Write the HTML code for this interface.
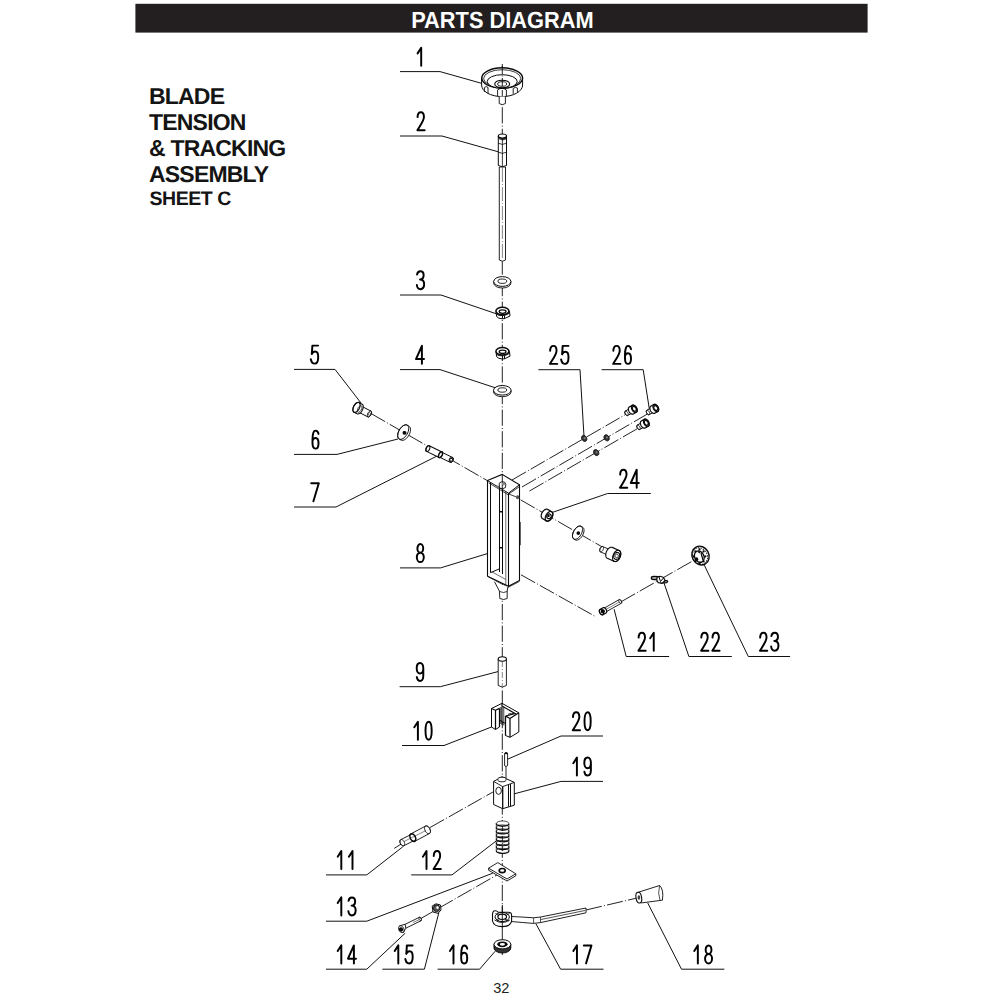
<!DOCTYPE html>
<html><head><meta charset="utf-8"><style>
html,body{margin:0;padding:0;background:#fff;width:1000px;height:1000px;overflow:hidden}
svg{position:absolute;left:0;top:0}
.h{font-family:"Liberation Sans",sans-serif;font-weight:bold;text-rendering:geometricPrecision}
</style></head><body>
<svg width="1000" height="1000" viewBox="0 0 1000 1000">
<rect x="135.4" y="3.8" width="732.2" height="28.8" fill="#231f20"/>
<text class="h" transform="translate(411.2 27.5) scale(1 1.07)" font-size="21.8" fill="#fff">PARTS DIAGRAM</text>
<g class="h" fill="#141414" font-size="23" letter-spacing="-0.8">
<text transform="translate(149 104) scale(1 1)">BLADE</text>
<text transform="translate(149 130) scale(1 1)">TENSION</text>
<text transform="translate(149 156) scale(1 1)">&amp; TRACKING</text>
<text transform="translate(149 182) scale(1 1)">ASSEMBLY</text>
<text x="149.5" y="205.3" font-size="19.5" letter-spacing="-0.45">SHEET C</text>
</g>
<text x="493.2" y="993.4" font-family="Liberation Sans" font-size="14.6" fill="#231f20">32</text>
<g fill="none" stroke="#111" stroke-width="1">
<polyline points="400,71.6 440,71.6 484,84"/>
<polyline points="400,136 442,136 499,152"/>
<polyline points="400,295 441,295 497,314"/>
<polyline points="400,369.6 440,369.6 496,388"/>
<polyline points="294,369.4 335,369.4 361,403"/>
<polyline points="294,454.4 337,454.4 398,439"/>
<polyline points="294,507 336,507 437,456"/>
<polyline points="400,567.9 440.6,567.9 487.4,553.6"/>
<polyline points="399.6,686.7 440.4,686.7 498,671.6"/>
<polyline points="402,745.5 444,745.5 492,726.8"/>
<polyline points="326,874.9 366.8,874.9 402.8,846.8"/>
<polyline points="411.2,874.9 452,874.9 496.4,840.8"/>
<polyline points="326,921.2 366.8,921.2 492.8,873.2"/>
<polyline points="326,969.2 366.8,969.2 405.2,933.2"/>
<polyline points="382.4,969.2 424.4,969.2 438.8,912.8"/>
<polyline points="437.6,969.2 479.6,969.2 495.2,951.2"/>
<polyline points="603.5,969.2 560.6,969.2 535.9,923.7"/>
<polyline points="724.4,969.2 681.5,969.2 647.7,902.9"/>
<polyline points="603,781.4 561,781.4 513.6,794"/>
<polyline points="603,736 561,736 507.6,759.2"/>
<polyline points="669.1,656.5 626.2,656.5 614.1,609.2"/>
<polyline points="731.8,656.5 688.9,656.5 663.6,581.7"/>
<polyline points="790.1,656.5 748.3,656.5 704.3,565.2"/>
<polyline points="650.8,493.5 607.6,493.5 552.4,512.4"/>
<polyline points="538.4,369.7 580,369.7 584,436.4"/>
<polyline points="601.6,369.7 643.2,369.7 649.6,410.8"/>
</g>
<g fill="none">
<line x1="502.3" y1="64" x2="502.3" y2="955" stroke="#0a0a0a" stroke-width="0.9" stroke-dasharray="16.2 2.2 1 2.2"/>
<line x1="371" y1="413.51" x2="603" y2="547.38" stroke="#0a0a0a" stroke-width="0.9" stroke-dasharray="16.2 2.2 1 2.2"/>
<line x1="512" y1="480" x2="626.4" y2="414" stroke="#0a0a0a" stroke-width="0.9" stroke-dasharray="16.2 2.2 1 2.2"/>
<line x1="522" y1="487" x2="648.8" y2="413.2" stroke="#0a0a0a" stroke-width="0.9" stroke-dasharray="16.2 2.2 1 2.2"/>
<line x1="529.5" y1="491" x2="639.2" y2="427.6" stroke="#0a0a0a" stroke-width="0.9" stroke-dasharray="16.2 2.2 1 2.2"/>
<line x1="521" y1="574.8" x2="594.5" y2="616" stroke="#0a0a0a" stroke-width="0.9" stroke-dasharray="16.2 2.2 1 2.2"/>
<line x1="621" y1="601.8" x2="694" y2="560.2" stroke="#0a0a0a" stroke-width="0.9" stroke-dasharray="16.2 2.2 1 2.2"/>
<line x1="394.2" y1="848.4" x2="402" y2="843.5" stroke="#0a0a0a" stroke-width="0.9" />
<line x1="430" y1="827.5" x2="493" y2="792" stroke="#0a0a0a" stroke-width="0.9" stroke-dasharray="16.2 2.2 1 2.2"/>
<line x1="420" y1="919" x2="498.2" y2="874.2" stroke="#0a0a0a" stroke-width="0.9" stroke-dasharray="16.2 2.2 1 2.2"/>
<line x1="586" y1="910" x2="637" y2="898" stroke="#0a0a0a" stroke-width="0.9" stroke-dasharray="16.2 2.2 1 2.2"/>
</g>
<path d="M481.6,78 L481.6,85 A20.5,11.6 0 0 0 522.6,85 L522.6,78 Z" fill="#fff" stroke="#0a0a0a" stroke-width="1"/>
<ellipse cx="502.2" cy="78" rx="20.4" ry="10.2" fill="#fff" stroke="#0a0a0a" stroke-width="1.4"/>
<ellipse cx="502.2" cy="78.5" rx="18.6" ry="8.8" fill="none" stroke="#0a0a0a" stroke-width="0.8"/>
<ellipse cx="502.2" cy="81.5" rx="15" ry="6.8" fill="#fff" stroke="#0a0a0a" stroke-width="1"/>
<ellipse cx="502.2" cy="84" rx="7.5" ry="3.8" fill="#fff" stroke="#0a0a0a" stroke-width="1.1"/>
<ellipse cx="502.2" cy="84" rx="4.5" ry="2.3" fill="#fff" stroke="#0a0a0a" stroke-width="0.9"/>
<path d="M484.4,92 L484.4,87.5 Q486.2,85.5 488,87.5 L488,93.5 M497.6,96 L497.6,90 Q502,86.5 506.4,90 L506.4,96.5 M513.2,94 L513.2,88.5 Q515.3,86.5 517.4,88 L517.4,92" fill="none" stroke="#0a0a0a" stroke-width="0.9"/>
<line x1="502.3" y1="66" x2="502.3" y2="97" stroke="#0a0a0a" stroke-width="0.9" stroke-dasharray="8 1.5 1 1.5"/>
<path d="M499.2,96.5 L499.2,103.5 Q502.3,106 505.4,103.5 L505.4,96.5" fill="#fff" stroke="#0a0a0a" stroke-width="0.9"/>
<path d="M499.3,167 L499.3,260 Q502.4,262.5 505.5,260 L505.5,167 Z" fill="#fff" stroke="#0a0a0a" stroke-width="0.9"/>
<line x1="502.4" y1="168" x2="502.4" y2="259" stroke="#0a0a0a" stroke-width="0.5" stroke-dasharray="14 2 1 2"/>
<path d="M498.3,136 L498.3,165.5 Q502.4,168 506.5,165.5 L506.5,136 Z" fill="#fff" stroke="#0a0a0a" stroke-width="1"/>
<ellipse cx="502.4" cy="136" rx="4.1" ry="2" fill="#fff" stroke="#0a0a0a" stroke-width="1.2"/>
<path d="M498.5,136.5 L502.4,138.5 L506.3,136.5 L506,139.5 L502.4,140.5 L498.8,139 Z" fill="#0a0a0a" opacity="0.8"/>
<path d="M498.3,143.3 L502.4,144.4 L506.5,143.3 M498.3,152.2 L502.4,153.4 L506.5,152.2 M502.4,138 L502.4,167" fill="none" stroke="#0a0a0a" stroke-width="0.8"/>
<path d="M493.7,281.5 L493.7,283.1 A8.6,4.9 0 0 0 510.9,283.1 L510.9,281.5 Z" fill="#fff" stroke="#0a0a0a" stroke-width="0.9"/><ellipse cx="502.3" cy="281.5" rx="8.6" ry="4.9" fill="#fff" stroke="#0a0a0a" stroke-width="1"/><ellipse cx="502.3" cy="281.2" rx="4.4" ry="2.2" fill="#fff" stroke="#0a0a0a" stroke-width="0.9"/>
<path d="M493.5,390.3 L493.5,391.9 A8.8,4.8 0 0 0 511.1,391.9 L511.1,390.3 Z" fill="#fff" stroke="#0a0a0a" stroke-width="0.9"/><ellipse cx="502.3" cy="390.3" rx="8.8" ry="4.8" fill="#fff" stroke="#0a0a0a" stroke-width="1"/><ellipse cx="502.3" cy="390" rx="4.4" ry="2.2" fill="#fff" stroke="#0a0a0a" stroke-width="0.9"/>
<path d="M496,311.2 L496.6,316.5 Q498,318.6 502.5,318.8 L504.5,318.6 L510,316 L509.5,311.2 Z" fill="#fff" stroke="#0a0a0a" stroke-width="1"/><ellipse cx="502.4" cy="311" rx="6.5" ry="3.7" fill="#fff" stroke="#0a0a0a" stroke-width="1.5"/><ellipse cx="502.6" cy="311.6" rx="3.4" ry="1.7" fill="#fff" stroke="#0a0a0a" stroke-width="1.3"/><path d="M496.2,314 Q499,316 502.5,315.6 L504.5,315.3 Q508,314.5 509.8,312.8 M502.5,315.6 L502.5,318.8 M504.5,315.3 L504.5,318.6" fill="none" stroke="#0a0a0a" stroke-width="1"/>
<path d="M496,351.4 L496.6,356.7 Q498,358.8 502.5,359 L504.5,358.8 L510,356.2 L509.5,351.4 Z" fill="#fff" stroke="#0a0a0a" stroke-width="1"/><ellipse cx="502.4" cy="351.2" rx="6.5" ry="3.7" fill="#fff" stroke="#0a0a0a" stroke-width="1.5"/><ellipse cx="502.6" cy="351.8" rx="3.4" ry="1.7" fill="#fff" stroke="#0a0a0a" stroke-width="1.3"/><path d="M496.2,354.2 Q499,356.2 502.5,355.8 L504.5,355.5 Q508,354.7 509.8,353 M502.5,355.8 L502.5,359 M504.5,355.5 L504.5,358.8" fill="none" stroke="#0a0a0a" stroke-width="1"/>
<polygon points="367.92,416.92 368.13,417 368.35,417.02 368.6,416.99 368.86,416.9 369.13,416.77 369.4,416.59 369.67,416.37 369.94,416.1 370.2,415.8 370.45,415.47 370.68,415.11 370.89,414.73 371.07,414.34 371.23,413.95 371.35,413.55 371.44,413.16 371.5,412.79 371.52,412.43 371.5,412.11 371.45,411.81 371.37,411.55 371.25,411.34 371.1,411.17 370.92,411.04 360.67,405.82 360.47,405.75 360.24,405.73 359.99,405.76 359.74,405.84 359.47,405.97 359.19,406.15 358.92,406.38 358.65,406.64 358.39,406.94 358.14,407.28 357.91,407.64 357.7,408.01 357.52,408.4 357.37,408.8 357.24,409.2 357.15,409.58 357.09,409.96 357.07,410.31 357.09,410.64 357.14,410.93 357.23,411.19 357.35,411.41 357.5,411.58 357.67,411.7" fill="#fff" stroke="#0a0a0a" stroke-width="1" /><polygon points="367.92,416.92 368.24,417.01 368.6,416.99 368.99,416.84 369.4,416.59 369.81,416.24 370.2,415.8 370.57,415.29 370.89,414.73 371.15,414.14 371.35,413.55 371.47,412.97 371.52,412.43 371.48,411.95 371.37,411.55 371.18,411.25 370.92,411.04 370.6,410.95 370.24,410.98 369.85,411.12 369.44,411.37 369.03,411.73 368.63,412.17 368.27,412.67 367.95,413.23 367.69,413.82 367.49,414.42 367.36,414.99 367.32,415.53 367.36,416.01 367.47,416.41 367.66,416.72 367.92,416.92" fill="none" stroke="#0a0a0a" stroke-width="1"/>
<polygon points="357.17,413.8 357.53,413.94 357.94,413.99 358.37,413.95 358.82,413.83 359.28,413.63 359.76,413.34 360.23,412.99 360.68,412.56 361.13,412.08 361.54,411.54 361.92,410.95 362.26,410.34 362.56,409.7 362.81,409.05 363,408.39 363.14,407.75 363.21,407.13 363.22,406.54 363.17,405.99 363.06,405.5 362.9,405.06 362.67,404.69 362.39,404.39 362.07,404.18 358.95,402.59 358.59,402.45 358.18,402.4 357.75,402.44 357.3,402.56 356.83,402.76 356.36,403.04 355.89,403.4 355.43,403.83 354.99,404.31 354.58,404.85 354.2,405.44 353.85,406.05 353.56,406.69 353.31,407.34 353.12,408 352.98,408.64 352.91,409.26 352.9,409.85 352.94,410.4 353.05,410.89 353.22,411.33 353.45,411.7 353.72,411.99 354.05,412.21" fill="#fff" stroke="#0a0a0a" stroke-width="1.1" /><polygon points="354.05,412.21 354.61,412.38 355.25,412.36 355.93,412.15 356.64,411.76 357.34,411.19 358.01,410.49 358.62,409.66 359.15,408.75 359.57,407.78 359.88,406.8 360.06,405.85 360.1,404.95 360.01,404.15 359.78,403.47 359.42,402.94 358.95,402.59 358.39,402.42 357.75,402.44 357.07,402.65 356.36,403.04 355.66,403.61 354.99,404.31 354.38,405.14 353.85,406.05 353.43,407.02 353.12,408 352.94,408.95 352.9,409.85 352.99,410.65 353.22,411.33 353.58,411.86 354.05,412.21" fill="none" stroke="#0a0a0a" stroke-width="1.1"/>
<polygon points="357.98,412.2 358.33,412.29 358.72,412.27 359.15,412.11 359.6,411.83 360.04,411.45 360.47,410.97 360.87,410.42 361.22,409.81 361.51,409.16 361.73,408.52 361.86,407.89 361.91,407.3 361.87,406.78 361.74,406.34 361.53,406 361.25,405.78 360.91,405.68 360.51,405.71 360.09,405.87 359.64,406.14 359.19,406.53 358.76,407.01 358.36,407.56 358.01,408.17 357.73,408.81 357.51,409.46 357.38,410.09 357.33,410.68 357.37,411.2 357.49,411.64 357.7,411.98 357.98,412.2" fill="none" stroke="#0a0a0a" stroke-width="0.8"/>
<polygon points="368.83,415.14 369.07,415.23 369.32,415.28 369.57,415.27 369.82,415.22 370.05,415.12 370.26,414.97 370.44,414.79 370.58,414.57 370.67,414.34 370.72,414.08 370.71,413.83 370.66,413.58 370.55,413.35 370.41,413.14 370.22,412.96 370.01,412.82 369.77,412.73 369.52,412.69 369.27,412.69 369.02,412.75 368.78,412.85 368.58,412.99 368.4,413.18 368.26,413.39 368.17,413.63 368.12,413.88 368.13,414.14 368.18,414.38 368.29,414.62 368.43,414.83 368.61,415 368.83,415.14" fill="#fff" stroke="#0a0a0a" stroke-width="0.8"/>
<polygon points="401,440.06 401.53,440.29 402.12,440.39 402.76,440.37 403.44,440.23 404.15,439.97 404.87,439.58 405.59,439.09 406.3,438.5 406.99,437.81 407.65,437.05 408.26,436.22 408.81,435.33 409.3,434.41 409.72,433.46 410.05,432.51 410.3,431.57 410.46,430.66 410.52,429.79 410.49,428.97 410.37,428.23 410.15,427.57 409.85,427.01 409.46,426.55 409,426.2 407.2,425.16 406.67,424.94 406.08,424.83 405.44,424.85 404.76,424.99 404.05,425.26 403.33,425.64 402.61,426.13 401.9,426.72 401.21,427.41 400.55,428.17 399.94,429.01 399.39,429.89 398.9,430.81 398.48,431.76 398.15,432.71 397.9,433.65 397.74,434.56 397.68,435.43 397.71,436.25 397.83,436.99 398.05,437.65 398.35,438.21 398.74,438.67 399.2,439.02" fill="#fff" stroke="#0a0a0a" stroke-width="1" /><polygon points="399.2,439.02 400.02,439.32 400.96,439.33 401.99,439.07 403.07,438.55 404.15,437.77 405.19,436.78 406.16,435.6 407.01,434.29 407.72,432.9 408.25,431.47 408.59,430.07 408.72,428.75 408.64,427.55 408.35,426.53 407.87,425.73 407.2,425.16 406.38,424.87 405.44,424.85 404.41,425.11 403.33,425.64 402.25,426.41 401.21,427.41 400.24,428.58 399.39,429.89 398.68,431.29 398.15,432.71 397.81,434.11 397.68,435.43 397.76,436.63 398.05,437.65 398.53,438.46 399.2,439.02" fill="none" stroke="#0a0a0a" stroke-width="1"/>
<polygon points="403.9,433.88 404.11,433.98 404.34,434.03 404.58,434.04 404.81,434 405.03,433.92 405.23,433.79 405.4,433.63 405.54,433.44 405.64,433.23 405.69,433 405.7,432.76 405.66,432.53 405.58,432.31 405.45,432.11 405.29,431.94 405.1,431.8 404.89,431.71 404.66,431.65 404.42,431.64 404.19,431.68 403.97,431.77 403.77,431.89 403.6,432.05 403.46,432.24 403.36,432.46 403.31,432.68 403.3,432.92 403.34,433.15 403.42,433.37 403.55,433.57 403.71,433.74 403.9,433.88" fill="#0a0a0a" stroke="#0a0a0a" stroke-width="1.5"/>
<polygon points="450.43,462.44 450.61,462.5 450.81,462.52 451.03,462.5 451.25,462.43 451.48,462.33 451.72,462.18 451.95,462 452.17,461.78 452.39,461.53 452.59,461.26 452.77,460.96 452.94,460.65 453.08,460.33 453.19,460 453.28,459.67 453.34,459.35 453.37,459.04 453.37,458.74 453.34,458.47 453.28,458.22 453.19,458 453.08,457.82 452.93,457.68 452.77,457.57 441.24,452.02 441.05,451.96 440.85,451.94 440.63,451.96 440.41,452.03 440.18,452.13 439.95,452.28 439.72,452.46 439.49,452.68 439.28,452.93 439.08,453.2 438.89,453.5 438.73,453.81 438.59,454.13 438.47,454.46 438.38,454.79 438.32,455.11 438.29,455.42 438.29,455.72 438.32,455.99 438.38,456.24 438.47,456.46 438.59,456.64 438.73,456.78 438.89,456.89" fill="#fff" stroke="#0a0a0a" stroke-width="1" /><polygon points="450.43,462.44 450.71,462.52 451.03,462.5 451.37,462.39 451.72,462.18 452.06,461.89 452.39,461.53 452.68,461.11 452.94,460.65 453.14,460.16 453.28,459.67 453.36,459.19 453.37,458.74 453.32,458.34 453.19,458 453.01,457.74 452.77,457.57 452.49,457.49 452.17,457.51 451.83,457.62 451.48,457.83 451.14,458.12 450.81,458.48 450.51,458.9 450.26,459.36 450.06,459.85 449.91,460.34 449.84,460.82 449.82,461.27 449.88,461.67 450,462.01 450.19,462.27 450.43,462.44" fill="none" stroke="#0a0a0a" stroke-width="1"/>
<polygon points="439.17,457.46 439.38,457.54 439.61,457.56 439.86,457.53 440.12,457.46 440.38,457.34 440.65,457.17 440.92,456.96 441.17,456.71 441.42,456.42 441.65,456.11 441.86,455.77 442.05,455.41 442.21,455.04 442.35,454.66 442.45,454.29 442.52,453.91 442.55,453.56 442.55,453.22 442.52,452.91 442.45,452.62 442.35,452.37 442.21,452.16 442.05,452 441.86,451.88 429.24,445.81 429.03,445.73 428.8,445.71 428.55,445.74 428.3,445.81 428.03,445.93 427.76,446.1 427.5,446.31 427.24,446.56 427,446.85 426.76,447.16 426.55,447.5 426.36,447.86 426.2,448.23 426.07,448.61 425.97,448.99 425.9,449.36 425.86,449.71 425.86,450.05 425.9,450.37 425.97,450.65 426.07,450.9 426.2,451.11 426.37,451.27 426.56,451.39" fill="#fff" stroke="#0a0a0a" stroke-width="1.1" /><polygon points="426.56,451.39 426.88,451.48 427.25,451.46 427.64,451.33 428.04,451.1 428.43,450.77 428.8,450.35 429.14,449.87 429.44,449.34 429.67,448.78 429.83,448.21 429.92,447.66 429.94,447.15 429.87,446.69 429.73,446.3 429.52,446 429.24,445.81 428.92,445.72 428.55,445.74 428.16,445.87 427.76,446.1 427.37,446.43 427,446.85 426.66,447.33 426.36,447.86 426.13,448.42 425.97,448.99 425.88,449.54 425.86,450.05 425.93,450.51 426.07,450.9 426.28,451.2 426.56,451.39" fill="none" stroke="#0a0a0a" stroke-width="1.1"/>
<polygon points="439.13,457.55 439.44,457.63 439.78,457.6 440.16,457.45 440.55,457.2 440.94,456.85 441.32,456.42 441.66,455.91 441.96,455.37 442.2,454.79 442.38,454.21 442.48,453.65 442.52,453.12 442.47,452.66 442.35,452.27 442.16,451.98 441.9,451.79 441.59,451.71 441.25,451.74 440.87,451.89 440.48,452.14 440.09,452.49 439.71,452.93 439.37,453.43 439.07,453.98 438.83,454.55 438.65,455.13 438.55,455.7 438.51,456.22 438.56,456.68 438.68,457.07 438.87,457.36 439.13,457.55" fill="none" stroke="#0a0a0a" stroke-width="1.5"/>
<polygon points="449.75,462 450.14,462.13 450.55,462.17 450.98,462.11 451.41,461.95 451.81,461.71 452.18,461.39 452.5,461 452.75,460.56 452.94,460.09 453.04,459.6 453.06,459.11 453,458.64 452.86,458.21 452.64,457.84 452.35,457.54 452,457.32 451.62,457.18 451.2,457.15 450.77,457.21 450.35,457.36 449.95,457.61 449.58,457.93 449.26,458.32 449,458.76 448.82,459.23 448.71,459.72 448.69,460.21 448.75,460.68 448.9,461.11 449.12,461.48 449.41,461.78 449.75,462" fill="#222" stroke="#0a0a0a" stroke-width="0"/>
<polygon points="450.76,460.6 450.92,460.66 451.1,460.69 451.27,460.68 451.45,460.64 451.61,460.56 451.75,460.46 451.87,460.33 451.96,460.18 452.02,460.01 452.05,459.84 452.04,459.66 452,459.49 451.92,459.33 451.82,459.19 451.69,459.07 451.54,458.98 451.37,458.92 451.2,458.89 451.02,458.9 450.85,458.94 450.69,459.01 450.55,459.12 450.43,459.25 450.34,459.4 450.28,459.56 450.25,459.74 450.26,459.91 450.3,460.09 450.37,460.25 450.48,460.39 450.61,460.51 450.76,460.6" fill="#fff" stroke="#0a0a0a" stroke-width="0"/>
<polygon points="487.5,480.6 502.1,474.4 519.5,484.8 519.5,580.4 508.5,586.3 487.5,576.2" fill="#fff" stroke="#0a0a0a" stroke-width="1.1"/>
<polyline points="487.5,480.6 508.5,493.2 519.5,484.8" fill="none" stroke="#0a0a0a" stroke-width="1"/>
<line x1="508.5" y1="493.2" x2="508.5" y2="586.3" stroke="#0a0a0a" stroke-width="1.1"/>
<path d="M490.5,482.5 L490.5,572.7 L499.5,568.8 M499.5,487 L499.5,572 M502.5,489 L502.5,574" fill="none" stroke="#0a0a0a" stroke-width="1"/>
<path d="M505.8,491.5 L505.8,584.8" fill="none" stroke="#0a0a0a" stroke-width="0.6"/>
<path d="M488.6,482.8 L507.9,494.6 L519.4,486.6 M508.8,494 L516,496.8" fill="none" stroke="#0a0a0a" stroke-width="0.8"/>
<path d="M491.8,571.8 L505.8,579.5" fill="none" stroke="#0a0a0a" stroke-width="0.6"/>
<path d="M488,576.5 L507.9,587.5 L519.5,581.5" fill="none" stroke="#0a0a0a" stroke-width="0.7"/>
<path d="M499.4,511.6 L503,512 M499.4,547.6 L503,548" fill="none" stroke="#0a0a0a" stroke-width="1.5"/>
<path d="M519.8,522 L519.8,545.2" fill="none" stroke="#0a0a0a" stroke-width="1.6"/>
<ellipse cx="517.6" cy="497.2" rx="1.6" ry="2" fill="#555"/>
<ellipse cx="497.5" cy="486.8" rx="1.6" ry="1.4" fill="#777"/>
<path d="M499.2,483.2 L501.5,481.8 L504.5,482 L505.8,484.2 L505.5,487.5 L502.5,488.8 L499.5,488 Z" fill="#fff" stroke="#0a0a0a" stroke-width="0.9"/>
<path d="M502.3,474.5 L502.3,489" fill="none" stroke="#0a0a0a" stroke-width="0.9"/>
<ellipse cx="503.5" cy="484" rx="1.6" ry="1.4" fill="#888"/>
<path d="M494.5,581.8 L499.4,591 L499.8,598.5 Q503.5,600.5 507.2,598.5 L507.2,591 L507.9,587" fill="#fff" stroke="#0a0a0a" stroke-width="0.9"/>
<path d="M499.6,591.5 Q503.5,593.5 507.2,591.5" fill="none" stroke="#0a0a0a" stroke-width="0.8"/>
<polygon points="632.95,412.47 633.09,412.36 633.21,412.21 633.31,412.04 633.37,411.83 633.41,411.6 633.42,411.34 633.4,411.07 633.35,410.79 633.27,410.49 633.17,410.2 633.04,409.9 632.89,409.61 632.71,409.34 632.52,409.08 632.32,408.84 632.1,408.62 631.88,408.44 631.65,408.28 631.43,408.16 631.21,408.08 631,408.04 630.8,408.03 630.61,408.06 630.45,408.13 625.25,411.13 625.11,411.24 624.98,411.39 624.89,411.56 624.82,411.77 624.78,412 624.77,412.26 624.79,412.53 624.84,412.81 624.92,413.11 625.03,413.4 625.16,413.7 625.31,413.99 625.48,414.26 625.67,414.52 625.88,414.76 626.09,414.98 626.32,415.16 626.54,415.32 626.77,415.44 626.99,415.52 627.2,415.56 627.4,415.57 627.58,415.54 627.75,415.47" fill="#fff" stroke="#0a0a0a" stroke-width="1" /><polygon points="627.75,415.47 627.96,415.29 628.11,415.04 628.2,414.72 628.23,414.34 628.18,413.93 628.08,413.49 627.91,413.05 627.69,412.61 627.42,412.2 627.12,411.84 626.8,411.53 626.46,411.28 626.12,411.12 625.8,411.04 625.51,411.04 625.25,411.13 625.04,411.31 624.89,411.56 624.8,411.88 624.77,412.26 624.82,412.67 624.92,413.11 625.09,413.55 625.31,413.99 625.58,414.4 625.88,414.76 626.2,415.07 626.54,415.32 626.88,415.48 627.2,415.56 627.49,415.56 627.75,415.47" fill="none" stroke="#0a0a0a" stroke-width="1"/><polygon points="636.29,412.26 636.55,412.08 636.76,411.84 636.94,411.54 637.07,411.2 637.15,410.82 637.18,410.4 637.16,409.96 637.09,409.49 636.98,409.02 636.82,408.54 636.62,408.06 636.37,407.6 636.09,407.16 635.78,406.74 635.45,406.37 635.09,406.03 634.73,405.74 634.35,405.5 633.97,405.32 633.6,405.2 633.24,405.14 632.9,405.14 632.58,405.21 632.29,405.34 629.26,407.09 629.01,407.27 628.79,407.51 628.62,407.81 628.49,408.15 628.41,408.53 628.38,408.95 628.4,409.39 628.46,409.86 628.58,410.33 628.74,410.81 628.94,411.29 629.18,411.75 629.46,412.19 629.77,412.61 630.11,412.98 630.46,413.32 630.83,413.61 631.21,413.85 631.58,414.03 631.96,414.15 632.32,414.21 632.66,414.21 632.97,414.14 633.26,414.01" fill="#fff" stroke="#0a0a0a" stroke-width="1.2" /><polygon points="636.29,412.26 636.66,411.96 636.94,411.54 637.11,411.01 637.18,410.4 637.13,409.73 636.98,409.02 636.72,408.3 636.37,407.6 635.94,406.95 635.45,406.37 634.91,405.88 634.35,405.5 633.79,405.25 633.24,405.14 632.74,405.17 632.29,405.34 631.93,405.64 631.65,406.06 631.48,406.59 631.41,407.2 631.45,407.87 631.61,408.58 631.87,409.3 632.22,410 632.65,410.65 633.14,411.23 633.68,411.72 634.24,412.1 634.8,412.35 635.35,412.46 635.85,412.43 636.29,412.26" fill="none" stroke="#0a0a0a" stroke-width="1.2"/><polygon points="635.59,411.05 635.88,410.83 636.1,410.53 636.25,410.17 636.33,409.75 636.33,409.29 636.25,408.82 636.09,408.35 635.87,407.89 635.59,407.47 635.25,407.1 634.88,406.79 634.49,406.56 634.09,406.42 633.7,406.37 633.33,406.41 632.99,406.55 632.71,406.77 632.49,407.07 632.34,407.43 632.26,407.85 632.26,408.31 632.34,408.78 632.49,409.25 632.72,409.71 633,410.13 633.34,410.5 633.71,410.81 634.1,411.04 634.5,411.18 634.89,411.23 635.26,411.19 635.59,411.05" fill="#fff" stroke="#0a0a0a" stroke-width="1.4"/>
<polygon points="654.45,411.67 654.59,411.56 654.71,411.41 654.81,411.24 654.87,411.03 654.91,410.8 654.92,410.54 654.9,410.27 654.85,409.99 654.77,409.69 654.67,409.4 654.54,409.1 654.39,408.81 654.21,408.54 654.02,408.28 653.82,408.04 653.6,407.82 653.38,407.64 653.15,407.48 652.93,407.36 652.71,407.28 652.5,407.24 652.3,407.23 652.11,407.26 651.95,407.33 646.75,410.33 646.61,410.44 646.48,410.59 646.39,410.76 646.32,410.97 646.28,411.2 646.27,411.46 646.29,411.73 646.34,412.01 646.42,412.31 646.53,412.6 646.66,412.9 646.81,413.19 646.98,413.46 647.17,413.72 647.38,413.96 647.59,414.18 647.82,414.36 648.04,414.52 648.27,414.64 648.49,414.72 648.7,414.76 648.9,414.77 649.08,414.74 649.25,414.67" fill="#fff" stroke="#0a0a0a" stroke-width="1" /><polygon points="649.25,414.67 649.46,414.49 649.61,414.24 649.7,413.92 649.73,413.54 649.68,413.13 649.58,412.69 649.41,412.25 649.19,411.81 648.92,411.4 648.62,411.04 648.3,410.73 647.96,410.48 647.62,410.32 647.3,410.24 647.01,410.24 646.75,410.33 646.54,410.51 646.39,410.76 646.3,411.08 646.27,411.46 646.32,411.87 646.42,412.31 646.59,412.75 646.81,413.19 647.08,413.6 647.38,413.96 647.7,414.27 648.04,414.52 648.38,414.68 648.7,414.76 648.99,414.76 649.25,414.67" fill="none" stroke="#0a0a0a" stroke-width="1"/><polygon points="657.79,411.46 658.05,411.28 658.26,411.04 658.44,410.74 658.57,410.4 658.65,410.02 658.68,409.6 658.66,409.16 658.59,408.69 658.48,408.22 658.32,407.74 658.12,407.26 657.87,406.8 657.59,406.36 657.28,405.94 656.95,405.57 656.59,405.23 656.23,404.94 655.85,404.7 655.47,404.52 655.1,404.4 654.74,404.34 654.4,404.34 654.08,404.41 653.79,404.54 650.76,406.29 650.51,406.47 650.29,406.71 650.12,407.01 649.99,407.35 649.91,407.73 649.88,408.15 649.9,408.59 649.96,409.06 650.08,409.53 650.24,410.01 650.44,410.49 650.68,410.95 650.96,411.39 651.27,411.81 651.61,412.18 651.96,412.52 652.33,412.81 652.71,413.05 653.08,413.23 653.46,413.35 653.82,413.41 654.16,413.41 654.47,413.34 654.76,413.21" fill="#fff" stroke="#0a0a0a" stroke-width="1.2" /><polygon points="657.79,411.46 658.16,411.16 658.44,410.74 658.61,410.21 658.68,409.6 658.63,408.93 658.48,408.22 658.22,407.5 657.87,406.8 657.44,406.15 656.95,405.57 656.41,405.08 655.85,404.7 655.29,404.45 654.74,404.34 654.24,404.37 653.79,404.54 653.43,404.84 653.15,405.26 652.98,405.79 652.91,406.4 652.95,407.07 653.11,407.78 653.37,408.5 653.72,409.2 654.15,409.85 654.64,410.43 655.18,410.92 655.74,411.3 656.3,411.55 656.85,411.66 657.35,411.63 657.79,411.46" fill="none" stroke="#0a0a0a" stroke-width="1.2"/><polygon points="657.09,410.25 657.38,410.03 657.6,409.73 657.75,409.37 657.83,408.95 657.83,408.49 657.75,408.02 657.59,407.55 657.37,407.09 657.09,406.67 656.75,406.3 656.38,405.99 655.99,405.76 655.59,405.62 655.2,405.57 654.83,405.61 654.49,405.75 654.21,405.97 653.99,406.27 653.84,406.63 653.76,407.05 653.76,407.51 653.84,407.98 653.99,408.45 654.22,408.91 654.5,409.33 654.84,409.7 655.21,410.01 655.6,410.24 656,410.38 656.39,410.43 656.76,410.39 657.09,410.25" fill="#fff" stroke="#0a0a0a" stroke-width="1.4"/>
<polygon points="644.95,426.47 645.09,426.36 645.21,426.21 645.31,426.04 645.37,425.83 645.41,425.6 645.42,425.34 645.4,425.07 645.35,424.79 645.27,424.49 645.17,424.2 645.04,423.9 644.89,423.61 644.71,423.34 644.52,423.08 644.32,422.84 644.1,422.62 643.88,422.44 643.65,422.28 643.43,422.16 643.21,422.08 643,422.04 642.8,422.03 642.61,422.06 642.45,422.13 637.25,425.13 637.11,425.24 636.98,425.39 636.89,425.56 636.82,425.77 636.78,426 636.77,426.26 636.79,426.53 636.84,426.81 636.92,427.11 637.03,427.4 637.16,427.7 637.31,427.99 637.48,428.26 637.67,428.52 637.88,428.76 638.09,428.98 638.32,429.16 638.54,429.32 638.77,429.44 638.99,429.52 639.2,429.56 639.4,429.57 639.58,429.54 639.75,429.47" fill="#fff" stroke="#0a0a0a" stroke-width="1" /><polygon points="639.75,429.47 639.96,429.29 640.11,429.04 640.2,428.72 640.23,428.34 640.18,427.93 640.08,427.49 639.91,427.05 639.69,426.61 639.42,426.2 639.12,425.84 638.8,425.53 638.46,425.28 638.12,425.12 637.8,425.04 637.51,425.04 637.25,425.13 637.04,425.31 636.89,425.56 636.8,425.88 636.77,426.26 636.82,426.67 636.92,427.11 637.09,427.55 637.31,427.99 637.58,428.4 637.88,428.76 638.2,429.07 638.54,429.32 638.88,429.48 639.2,429.56 639.49,429.56 639.75,429.47" fill="none" stroke="#0a0a0a" stroke-width="1"/><polygon points="648.29,426.26 648.55,426.08 648.76,425.84 648.94,425.54 649.07,425.2 649.15,424.82 649.18,424.4 649.16,423.96 649.09,423.49 648.98,423.02 648.82,422.54 648.62,422.06 648.37,421.6 648.09,421.16 647.78,420.74 647.45,420.37 647.09,420.03 646.73,419.74 646.35,419.5 645.97,419.32 645.6,419.2 645.24,419.14 644.9,419.14 644.58,419.21 644.29,419.34 641.26,421.09 641.01,421.27 640.79,421.51 640.62,421.81 640.49,422.15 640.41,422.53 640.38,422.95 640.4,423.39 640.46,423.86 640.58,424.33 640.74,424.81 640.94,425.29 641.18,425.75 641.46,426.19 641.77,426.61 642.11,426.98 642.46,427.32 642.83,427.61 643.21,427.85 643.58,428.03 643.96,428.15 644.32,428.21 644.66,428.21 644.97,428.14 645.26,428.01" fill="#fff" stroke="#0a0a0a" stroke-width="1.2" /><polygon points="648.29,426.26 648.66,425.96 648.94,425.54 649.11,425.01 649.18,424.4 649.13,423.73 648.98,423.02 648.72,422.3 648.37,421.6 647.94,420.95 647.45,420.37 646.91,419.88 646.35,419.5 645.79,419.25 645.24,419.14 644.74,419.17 644.29,419.34 643.93,419.64 643.65,420.06 643.48,420.59 643.41,421.2 643.45,421.87 643.61,422.58 643.87,423.3 644.22,424 644.65,424.65 645.14,425.23 645.68,425.72 646.24,426.1 646.8,426.35 647.35,426.46 647.85,426.43 648.29,426.26" fill="none" stroke="#0a0a0a" stroke-width="1.2"/><polygon points="647.59,425.05 647.88,424.83 648.1,424.53 648.25,424.17 648.33,423.75 648.33,423.29 648.25,422.82 648.09,422.35 647.87,421.89 647.59,421.47 647.25,421.1 646.88,420.79 646.49,420.56 646.09,420.42 645.7,420.37 645.33,420.41 644.99,420.55 644.71,420.77 644.49,421.07 644.34,421.43 644.26,421.85 644.26,422.31 644.34,422.78 644.49,423.25 644.72,423.71 645,424.13 645.34,424.5 645.71,424.81 646.1,425.04 646.5,425.18 646.89,425.23 647.26,425.19 647.59,425.05" fill="#fff" stroke="#0a0a0a" stroke-width="1.4"/>
<polygon points="585.8,441.17 586.17,440.88 586.47,440.5 586.69,440.04 586.8,439.51 586.82,438.94 586.73,438.35 586.55,437.76 586.28,437.2 585.93,436.68 585.51,436.23 585.04,435.86 584.54,435.59 584.02,435.43 583.52,435.38 583.04,435.45 582.6,435.63 582.23,435.92 581.93,436.3 581.71,436.76 581.6,437.29 581.58,437.86 581.67,438.45 581.85,439.04 582.12,439.6 582.47,440.12 582.89,440.57 583.36,440.94 583.86,441.21 584.38,441.37 584.88,441.42 585.36,441.35 585.8,441.17" fill="#333" stroke="#0a0a0a" stroke-width="1"/>
<polygon points="585.15,439.05 585.33,438.93 585.47,438.77 585.59,438.59 585.66,438.38 585.7,438.17 585.69,437.96 585.64,437.75 585.55,437.55 585.43,437.37 585.27,437.23 585.09,437.11 584.88,437.04 584.67,437 584.46,437.01 584.25,437.06 584.05,437.15 583.87,437.27 583.73,437.43 583.61,437.61 583.54,437.82 583.5,438.03 583.51,438.24 583.56,438.45 583.65,438.65 583.77,438.83 583.93,438.97 584.11,439.09 584.32,439.16 584.53,439.2 584.74,439.19 584.95,439.14 585.15,439.05" fill="#777" stroke="#0a0a0a" stroke-width="0"/>
<polygon points="608.2,440.57 608.57,440.28 608.87,439.9 609.09,439.44 609.2,438.91 609.22,438.34 609.13,437.75 608.95,437.16 608.68,436.6 608.33,436.08 607.91,435.63 607.44,435.26 606.94,434.99 606.42,434.83 605.92,434.78 605.44,434.85 605,435.03 604.63,435.32 604.33,435.7 604.11,436.16 604,436.69 603.98,437.26 604.07,437.85 604.25,438.44 604.52,439 604.87,439.52 605.29,439.97 605.76,440.34 606.26,440.61 606.78,440.77 607.28,440.82 607.76,440.75 608.2,440.57" fill="#333" stroke="#0a0a0a" stroke-width="1"/>
<polygon points="607.55,438.45 607.73,438.33 607.87,438.17 607.99,437.99 608.06,437.78 608.1,437.57 608.09,437.36 608.04,437.15 607.95,436.95 607.83,436.77 607.67,436.63 607.49,436.51 607.28,436.44 607.07,436.4 606.86,436.41 606.65,436.46 606.45,436.55 606.27,436.67 606.13,436.83 606.01,437.01 605.94,437.22 605.9,437.43 605.91,437.64 605.96,437.85 606.05,438.05 606.17,438.23 606.33,438.37 606.51,438.49 606.72,438.56 606.93,438.6 607.14,438.59 607.35,438.54 607.55,438.45" fill="#777" stroke="#0a0a0a" stroke-width="0"/>
<polygon points="597.8,455.37 598.17,455.08 598.47,454.7 598.69,454.24 598.8,453.71 598.82,453.14 598.73,452.55 598.55,451.96 598.28,451.4 597.93,450.88 597.51,450.43 597.04,450.06 596.54,449.79 596.02,449.63 595.52,449.58 595.04,449.65 594.6,449.83 594.23,450.12 593.93,450.5 593.71,450.96 593.6,451.49 593.58,452.06 593.67,452.65 593.85,453.24 594.12,453.8 594.47,454.32 594.89,454.77 595.36,455.14 595.86,455.41 596.38,455.57 596.88,455.62 597.36,455.55 597.8,455.37" fill="#333" stroke="#0a0a0a" stroke-width="1"/>
<polygon points="597.15,453.25 597.33,453.13 597.47,452.97 597.59,452.79 597.66,452.58 597.7,452.37 597.69,452.16 597.64,451.95 597.55,451.75 597.43,451.57 597.27,451.43 597.09,451.31 596.88,451.24 596.67,451.2 596.46,451.21 596.25,451.26 596.05,451.35 595.87,451.47 595.73,451.63 595.61,451.81 595.54,452.02 595.5,452.23 595.51,452.44 595.56,452.65 595.65,452.85 595.77,453.03 595.93,453.17 596.11,453.29 596.32,453.36 596.53,453.4 596.74,453.39 596.95,453.34 597.15,453.25" fill="#777" stroke="#0a0a0a" stroke-width="0"/>
<polygon points="546.35,520.89 546.73,521.06 547.15,521.15 547.61,521.15 548.08,521.07 548.57,520.91 549.07,520.67 549.57,520.36 550.06,519.97 550.53,519.53 550.97,519.02 551.38,518.48 551.75,517.89 552.08,517.28 552.35,516.65 552.56,516.01 552.71,515.38 552.8,514.77 552.82,514.18 552.78,513.63 552.67,513.12 552.5,512.67 552.27,512.28 551.99,511.96 551.65,511.71 547.65,509.41 547.27,509.24 546.85,509.15 546.39,509.15 545.92,509.23 545.43,509.39 544.93,509.63 544.43,509.94 543.94,510.33 543.47,510.77 543.03,511.28 542.62,511.82 542.25,512.41 541.92,513.02 541.65,513.65 541.44,514.29 541.29,514.92 541.2,515.53 541.18,516.12 541.22,516.67 541.33,517.18 541.5,517.63 541.73,518.02 542.01,518.34 542.35,518.59" fill="#fff" stroke="#0a0a0a" stroke-width="1.2" /><polygon points="546.35,520.89 546.94,521.11 547.61,521.15 548.33,521 549.07,520.67 549.82,520.17 550.53,519.53 551.18,518.75 551.75,517.89 552.22,516.96 552.56,516.01 552.76,515.07 552.82,514.18 552.73,513.37 552.5,512.67 552.14,512.11 551.65,511.71 551.06,511.49 550.39,511.45 549.67,511.6 548.93,511.93 548.18,512.43 547.47,513.07 546.82,513.85 546.25,514.71 545.78,515.64 545.44,516.59 545.24,517.53 545.18,518.42 545.27,519.23 545.5,519.93 545.86,520.49 546.35,520.89" fill="none" stroke="#0a0a0a" stroke-width="1.2"/>
<polygon points="547.8,518.38 548.19,518.55 548.61,518.63 549.04,518.63 549.47,518.53 549.89,518.35 550.27,518.09 550.6,517.76 550.87,517.38 551.07,516.95 551.19,516.5 551.22,516.04 551.17,515.59 551.04,515.17 550.82,514.79 550.54,514.47 550.2,514.22 549.81,514.05 549.39,513.97 548.96,513.97 548.53,514.07 548.11,514.25 547.73,514.51 547.4,514.84 547.13,515.22 546.93,515.65 546.81,516.1 546.78,516.56 546.83,517.01 546.96,517.43 547.18,517.81 547.46,518.13 547.8,518.38" fill="#fff" stroke="#0a0a0a" stroke-width="1.3"/>
<polygon points="548.05,516.95 548.25,517.04 548.46,517.09 548.67,517.1 548.88,517.06 549.09,516.99 549.27,516.87 549.43,516.73 549.55,516.55 549.64,516.35 549.69,516.14 549.7,515.93 549.66,515.72 549.59,515.51 549.47,515.33 549.33,515.17 549.15,515.05 548.95,514.96 548.74,514.91 548.53,514.9 548.32,514.94 548.11,515.01 547.93,515.13 547.77,515.27 547.65,515.45 547.56,515.65 547.51,515.86 547.5,516.07 547.54,516.28 547.61,516.49 547.73,516.67 547.87,516.83 548.05,516.95" fill="#0a0a0a" stroke="#0a0a0a" stroke-width="0"/>
<polygon points="575.35,539.85 575.84,540.06 576.37,540.15 576.96,540.14 577.58,540.01 578.22,539.77 578.88,539.42 579.54,538.97 580.19,538.43 580.82,537.8 581.41,537.1 581.97,536.34 582.48,535.54 582.92,534.69 583.3,533.83 583.61,532.96 583.84,532.11 583.98,531.27 584.04,530.48 584.01,529.73 583.9,529.06 583.7,528.46 583.43,527.94 583.07,527.52 582.65,527.21 581.15,526.34 580.66,526.13 580.13,526.04 579.54,526.05 578.92,526.18 578.28,526.42 577.62,526.77 576.96,527.22 576.31,527.76 575.68,528.39 575.09,529.09 574.53,529.85 574.02,530.65 573.58,531.5 573.2,532.36 572.89,533.23 572.66,534.08 572.52,534.92 572.46,535.71 572.49,536.46 572.6,537.13 572.8,537.74 573.07,538.25 573.43,538.67 573.85,538.98" fill="#fff" stroke="#0a0a0a" stroke-width="1" /><polygon points="573.85,538.98 574.6,539.25 575.46,539.27 576.4,539.03 577.38,538.55 578.36,537.84 579.32,536.94 580.2,535.86 580.98,534.67 581.62,533.4 582.11,532.1 582.42,530.82 582.54,529.61 582.47,528.52 582.2,527.59 581.76,526.85 581.15,526.34 580.4,526.07 579.54,526.05 578.6,526.29 577.62,526.77 576.64,527.48 575.68,528.39 574.8,529.46 574.02,530.65 573.38,531.93 572.89,533.23 572.58,534.51 572.46,535.71 572.53,536.8 572.8,537.74 573.24,538.47 573.85,538.98" fill="none" stroke="#0a0a0a" stroke-width="1"/>
<polygon points="577.75,534.08 577.95,534.17 578.16,534.21 578.37,534.22 578.58,534.19 578.79,534.11 578.97,534 579.13,533.85 579.25,533.67 579.34,533.48 579.39,533.27 579.4,533.05 579.36,532.84 579.29,532.64 579.17,532.45 579.03,532.3 578.85,532.17 578.65,532.08 578.44,532.03 578.23,532.03 578.02,532.06 577.81,532.14 577.63,532.25 577.47,532.4 577.35,532.57 577.26,532.77 577.21,532.98 577.2,533.2 577.24,533.41 577.31,533.61 577.43,533.79 577.57,533.95 577.75,534.08" fill="#0a0a0a" stroke="#0a0a0a" stroke-width="1.4"/>
<polygon points="608.92,555.63 609.12,555.69 609.33,555.71 609.56,555.68 609.8,555.6 610.05,555.48 610.29,555.31 610.53,555.11 610.77,554.87 610.99,554.6 611.2,554.29 611.39,553.97 611.55,553.63 611.69,553.28 611.81,552.92 611.89,552.57 611.95,552.22 611.97,551.88 611.96,551.57 611.92,551.28 611.85,551.01 611.74,550.78 611.61,550.59 611.46,550.44 611.28,550.33 602.78,546.55 602.58,546.49 602.36,546.47 602.13,546.5 601.89,546.58 601.65,546.7 601.4,546.87 601.16,547.07 600.93,547.31 600.71,547.59 600.5,547.89 600.31,548.21 600.14,548.55 600,548.9 599.89,549.26 599.8,549.61 599.75,549.96 599.73,550.3 599.74,550.61 599.78,550.91 599.85,551.17 599.95,551.4 600.08,551.59 600.24,551.74 600.42,551.85" fill="#fff" stroke="#0a0a0a" stroke-width="0.9" /><polygon points="600.42,551.85 600.73,551.92 601.07,551.9 601.43,551.76 601.8,551.53 602.16,551.21 602.49,550.81 602.8,550.35 603.06,549.85 603.26,549.32 603.4,548.79 603.47,548.27 603.46,547.79 603.39,547.36 603.25,547 603.04,546.73 602.78,546.55 602.47,546.48 602.13,546.5 601.77,546.64 601.4,546.87 601.04,547.19 600.71,547.59 600.4,548.05 600.14,548.55 599.94,549.08 599.8,549.61 599.73,550.13 599.74,550.61 599.81,551.04 599.95,551.4 600.16,551.67 600.42,551.85" fill="none" stroke="#0a0a0a" stroke-width="0.9"/>
<polygon points="614.23,561.39 614.68,561.54 615.17,561.58 615.68,561.54 616.2,561.39 616.74,561.15 617.27,560.82 617.8,560.41 618.3,559.92 618.78,559.36 619.22,558.74 619.62,558.08 619.96,557.38 620.25,556.65 620.48,555.91 620.65,555.17 620.74,554.44 620.77,553.74 620.72,553.07 620.61,552.45 620.43,551.9 620.19,551.41 619.88,551 619.52,550.67 619.11,550.43 612.26,547.38 611.81,547.24 611.33,547.19 610.82,547.24 610.29,547.38 609.76,547.62 609.22,547.95 608.7,548.36 608.19,548.85 607.72,549.41 607.28,550.03 606.88,550.69 606.53,551.4 606.24,552.12 606.01,552.86 605.85,553.61 605.75,554.33 605.73,555.04 605.77,555.7 605.88,556.32 606.06,556.88 606.31,557.36 606.61,557.78 606.97,558.1 607.38,558.34" fill="#fff" stroke="#0a0a0a" stroke-width="1.1" /><polygon points="614.23,561.39 614.92,561.57 615.68,561.54 616.47,561.28 617.27,560.82 618.05,560.17 618.78,559.36 619.42,558.42 619.96,557.38 620.38,556.28 620.65,555.17 620.76,554.08 620.72,553.07 620.53,552.17 620.19,551.41 619.71,550.82 619.11,550.43 618.43,550.25 617.67,550.29 616.88,550.54 616.07,551 615.29,551.65 614.57,552.46 613.92,553.41 613.38,554.45 612.97,555.54 612.7,556.66 612.58,557.74 612.62,558.75 612.82,559.66 613.16,560.41 613.64,561 614.23,561.39" fill="none" stroke="#0a0a0a" stroke-width="1.1"/>
<polygon points="615.21,559.2 615.75,559.37 616.33,559.4 616.92,559.3 617.5,559.06 618.05,558.71 618.54,558.25 618.97,557.7 619.3,557.08 619.54,556.42 619.66,555.73 619.67,555.06 619.57,554.41 619.35,553.83 619.03,553.32 618.62,552.91 618.14,552.62 617.6,552.46 617.02,552.42 616.43,552.53 615.85,552.76 615.3,553.11 614.8,553.57 614.38,554.12 614.04,554.74 613.81,555.4 613.68,556.09 613.67,556.76 613.78,557.41 613.99,557.99 614.31,558.5 614.72,558.91 615.21,559.2" fill="#fff" stroke="#0a0a0a" stroke-width="1.1"/>
<polygon points="615.94,557.56 616.24,557.65 616.56,557.68 616.89,557.64 617.2,557.54 617.5,557.37 617.76,557.15 617.98,556.88 618.15,556.57 618.27,556.24 618.32,555.89 618.31,555.55 618.24,555.21 618.1,554.91 617.92,554.64 617.68,554.43 617.41,554.27 617.1,554.17 616.78,554.14 616.46,554.18 616.14,554.28 615.85,554.45 615.59,554.67 615.36,554.94 615.19,555.25 615.08,555.59 615.03,555.93 615.04,556.28 615.11,556.61 615.24,556.91 615.43,557.18 615.67,557.4 615.94,557.56" fill="#fff" stroke="#0a0a0a" stroke-width="0.9"/>
<polygon points="621.24,603.28 621.36,603.19 621.47,603.07 621.55,602.92 621.61,602.75 621.64,602.56 621.65,602.34 621.63,602.11 621.59,601.87 621.53,601.63 621.45,601.38 621.34,601.13 621.21,600.88 621.07,600.65 620.91,600.43 620.74,600.23 620.56,600.05 620.38,599.89 620.19,599.76 620,599.66 619.81,599.58 619.64,599.55 619.47,599.54 619.31,599.57 619.17,599.62 603.51,608.49 603.38,608.58 603.28,608.7 603.2,608.84 603.14,609.02 603.11,609.21 603.1,609.42 603.11,609.65 603.15,609.89 603.22,610.14 603.3,610.39 603.41,610.64 603.54,610.88 603.68,611.12 603.84,611.34 604.01,611.54 604.19,611.72 604.37,611.88 604.56,612.01 604.75,612.11 604.93,612.18 605.11,612.22 605.28,612.23 605.43,612.2 605.57,612.14" fill="#fff" stroke="#0a0a0a" stroke-width="0.9" /><polygon points="621.24,603.28 621.42,603.13 621.55,602.92 621.63,602.66 621.65,602.34 621.62,601.99 621.53,601.63 621.39,601.25 621.21,600.88 620.99,600.54 620.74,600.23 620.47,599.96 620.19,599.76 619.91,599.62 619.64,599.55 619.39,599.55 619.17,599.62 619,599.77 618.87,599.98 618.79,600.25 618.77,600.56 618.8,600.91 618.88,601.28 619.02,601.65 619.2,602.02 619.42,602.37 619.67,602.68 619.95,602.94 620.23,603.15 620.51,603.29 620.78,603.36 621.03,603.36 621.24,603.28" fill="none" stroke="#0a0a0a" stroke-width="0.9"/>
<line x1="605.41" y1="609.82" x2="619.34" y2="601.94" stroke="#0a0a0a" stroke-width="0.5"/>
<polygon points="606.02,612.93 606.21,612.79 606.37,612.61 606.51,612.39 606.6,612.13 606.67,611.85 606.69,611.53 606.68,611.2 606.64,610.85 606.55,610.5 606.44,610.13 606.29,609.78 606.11,609.43 605.9,609.1 605.67,608.78 605.42,608.5 605.16,608.24 604.88,608.02 604.6,607.84 604.32,607.7 604.04,607.61 603.78,607.56 603.52,607.56 603.28,607.61 603.06,607.7 600.02,609.43 599.83,609.57 599.66,609.75 599.53,609.97 599.43,610.22 599.37,610.51 599.34,610.82 599.35,611.15 599.4,611.5 599.48,611.86 599.6,612.22 599.75,612.58 599.93,612.92 600.13,613.26 600.36,613.57 600.61,613.86 600.88,614.11 601.15,614.33 601.43,614.51 601.71,614.65 601.99,614.74 602.26,614.79 602.52,614.79 602.75,614.74 602.97,614.65" fill="#fff" stroke="#0a0a0a" stroke-width="1.2" /><polygon points="602.97,614.65 603.25,614.43 603.46,614.11 603.59,613.72 603.65,613.26 603.62,612.75 603.51,612.22 603.32,611.68 603.06,611.15 602.74,610.66 602.38,610.22 601.98,609.85 601.56,609.57 601.14,609.38 600.73,609.29 600.35,609.3 600.02,609.43 599.74,609.65 599.53,609.97 599.4,610.36 599.34,610.82 599.37,611.32 599.48,611.86 599.67,612.4 599.93,612.92 600.25,613.42 600.61,613.86 601.01,614.23 601.43,614.51 601.85,614.7 602.26,614.79 602.64,614.77 602.97,614.65" fill="none" stroke="#0a0a0a" stroke-width="1.2"/>
<polygon points="603.54,612.61 603.78,612.44 603.98,612.22 604.14,611.98 604.25,611.7 604.3,611.41 604.29,611.12 604.22,610.83 604.11,610.56 603.94,610.32 603.72,610.12 603.48,609.96 603.2,609.85 602.91,609.8 602.62,609.81 602.33,609.88 602.06,609.99 601.82,610.16 601.62,610.38 601.46,610.62 601.35,610.9 601.3,611.19 601.31,611.48 601.38,611.77 601.49,612.04 601.66,612.28 601.88,612.48 602.12,612.64 602.4,612.75 602.69,612.8 602.98,612.79 603.27,612.72 603.54,612.61" fill="#0a0a0a" stroke="#0a0a0a" stroke-width="1.2"/>
<path d="M651.3,578 Q651.3,576.3 653.5,576.3 L658.5,576.5 L658.5,579.6 L653.5,579.6 Q651.3,579.6 651.3,578 Z" fill="#999" stroke="#0a0a0a" stroke-width="1.2"/>
<path d="M661,580 L666.8,580.6 Q668.6,581.6 666.8,582.6 L661,583 Z" fill="#999" stroke="#0a0a0a" stroke-width="1.2"/>
<polygon points="657,577.2 660.2,576.3 663.6,577.4 665,580.8 662.2,583.1 658.2,582.6 656.8,580.2" fill="#fff" stroke="#0a0a0a" stroke-width="1.2"/>
<path d="M659,577 L660.5,581.5 L663.5,578" fill="none" stroke="#0a0a0a" stroke-width="1"/>
<ellipse cx="700.5" cy="555.6" rx="8.4" ry="9.7" transform="rotate(-28 700.5 555.6)" fill="#fff" stroke="#0a0a0a" stroke-width="1.4"/>
<ellipse cx="700" cy="556" rx="7.2" ry="8.6" transform="rotate(-28 700 556)" fill="none" stroke="#0a0a0a" stroke-width="0.9" stroke-dasharray="1.6 1"/>
<ellipse cx="699.3" cy="556.6" rx="4.6" ry="5.9" transform="rotate(-28 699.3 556.6)" fill="none" stroke="#0a0a0a" stroke-width="1.3"/>
<circle cx="705.3" cy="556.4" r="1.1" fill="#0a0a0a"/>
<circle cx="703.6" cy="561.35" r="1.1" fill="#0a0a0a"/>
<circle cx="699.5" cy="563.4" r="1.1" fill="#0a0a0a"/>
<circle cx="695.4" cy="561.35" r="1.1" fill="#0a0a0a"/>
<circle cx="693.7" cy="556.4" r="1.1" fill="#0a0a0a"/>
<circle cx="695.4" cy="551.45" r="1.1" fill="#0a0a0a"/>
<circle cx="699.5" cy="549.4" r="1.1" fill="#0a0a0a"/>
<circle cx="703.6" cy="551.45" r="1.1" fill="#0a0a0a"/>
<ellipse cx="696.5" cy="559.2" rx="1.8" ry="2" fill="#0a0a0a"/>
<path d="M701,553 L703,560 M698,551.5 L700,553" fill="none" stroke="#0a0a0a" stroke-width="1.2"/>
<path d="M498.2,659 L498.2,685.5 Q502.3,688.5 506.4,685.5 L506.4,659 Z" fill="#fff" stroke="#0a0a0a" stroke-width="0.9"/>
<ellipse cx="502.3" cy="659" rx="4.1" ry="2.2" fill="#fff" stroke="#0a0a0a" stroke-width="1.1"/>
<line x1="502.3" y1="661" x2="502.3" y2="686" stroke="#0a0a0a" stroke-width="0.5" stroke-dasharray="6 2 1 2"/>
<polygon points="502,703.3 491.5,708.5 491.5,727 495.5,729.5 499.5,727 499.5,720 505.5,723.5 505.5,735.5 510,737.3 518.8,732 518.8,712.8" fill="#fff" stroke="#0a0a0a" stroke-width="1"/>
<path d="M491.5,708.5 L495.5,710.3 L495.5,729.5 M495.5,710.3 L499.5,708.4 M505.5,716 L510,718.5 L510,737.3 M510,718.5 L518.8,712.8 M502,703.3 L502,706 L515,713.5 L505.5,716 M499.5,708.4 L499.5,727 M505.5,716 L505.5,735.5" fill="none" stroke="#0a0a0a" stroke-width="1.25"/>
<path d="M500.3,707 L500.3,724 M501.5,706.5 L501.5,724.5 M502.7,706.5 L502.7,725 M503.8,707 L503.8,725.5" fill="none" stroke="#0a0a0a" stroke-width="0.7"/>
<path d="M508,714.5 L510,713.5 L512,714 L514,712.5" fill="none" stroke="#0a0a0a" stroke-width="0.8"/>
<rect x="504.6" y="752.7" width="3" height="13.6" rx="1.2" fill="#fff" stroke="#0a0a0a" stroke-width="0.9"/>
<ellipse cx="506.1" cy="753.3" rx="1.5" ry="1" fill="#0a0a0a"/>
<line x1="506" y1="766.3" x2="506" y2="778" stroke="#0a0a0a" stroke-width="0.9"/>
<polygon points="493.6,781.4 497,779.6 502,776.8 508,779.5 514.3,782.4 514.3,805.2 502.7,808.7 493.6,804.5" fill="#fff" stroke="#0a0a0a" stroke-width="1"/>
<polyline points="493.6,781.4 502.7,786.6 514.3,782.4" fill="none" stroke="#0a0a0a" stroke-width="0.9"/>
<line x1="502.7" y1="786.6" x2="502.7" y2="808.7" stroke="#0a0a0a" stroke-width="1.3"/>
<ellipse cx="502" cy="779.5" rx="4.2" ry="2.3" fill="#fff" stroke="#0a0a0a" stroke-width="0.9"/>
<ellipse cx="498.6" cy="790.8" rx="2.8" ry="3.6" fill="#fff" stroke="#0a0a0a" stroke-width="0.9"/>
<path d="M508.5,784.5 L508.5,806.5 M510.5,784 L510.5,806" fill="none" stroke="#0a0a0a" stroke-width="1"/>
<polygon points="429.47,833.51 429.75,833.32 429.98,833.08 430.17,832.77 430.32,832.42 430.42,832.02 430.47,831.59 430.47,831.12 430.41,830.63 430.31,830.13 430.16,829.62 429.96,829.11 429.73,828.62 429.45,828.14 429.14,827.7 428.8,827.29 428.44,826.92 428.06,826.6 427.68,826.34 427.29,826.14 426.9,826 426.53,825.92 426.17,825.91 425.84,825.97 425.53,826.09 410.83,833.89 410.55,834.08 410.32,834.32 410.13,834.63 409.98,834.98 409.88,835.38 409.83,835.81 409.83,836.28 409.89,836.77 409.99,837.27 410.14,837.78 410.34,838.29 410.57,838.78 410.85,839.26 411.16,839.7 411.5,840.11 411.86,840.48 412.24,840.8 412.62,841.06 413.01,841.26 413.4,841.4 413.77,841.48 414.13,841.49 414.46,841.43 414.77,841.31" fill="#fff" stroke="#0a0a0a" stroke-width="0.9" /><polygon points="429.47,833.51 429.87,833.21 430.17,832.77 430.38,832.23 430.47,831.59 430.45,830.88 430.31,830.13 430.07,829.36 429.73,828.62 429.3,827.92 428.8,827.29 428.25,826.76 427.68,826.34 427.1,826.06 426.53,825.92 426,825.93 425.53,826.09 425.13,826.39 424.83,826.83 424.62,827.37 424.53,828.01 424.55,828.72 424.69,829.47 424.93,830.24 425.27,830.98 425.7,831.68 426.2,832.31 426.75,832.84 427.32,833.26 427.9,833.54 428.47,833.68 429,833.67 429.47,833.51" fill="none" stroke="#0a0a0a" stroke-width="0.9"/>
<polygon points="414.9,840.2 415.12,840.05 415.31,839.85 415.46,839.61 415.58,839.32 415.66,839 415.7,838.65 415.7,838.27 415.66,837.87 415.57,837.46 415.45,837.05 415.29,836.64 415.1,836.24 414.88,835.86 414.63,835.5 414.35,835.17 414.06,834.87 413.76,834.61 413.44,834.4 413.13,834.24 412.82,834.12 412.51,834.06 412.22,834.05 411.95,834.1 411.7,834.2 400.7,839.7 400.48,839.85 400.29,840.05 400.14,840.29 400.02,840.58 399.94,840.9 399.9,841.25 399.9,841.63 399.94,842.03 400.03,842.44 400.15,842.85 400.31,843.26 400.5,843.66 400.72,844.04 400.97,844.4 401.25,844.73 401.54,845.03 401.84,845.29 402.16,845.5 402.47,845.66 402.78,845.78 403.09,845.84 403.38,845.85 403.65,845.8 403.9,845.7" fill="#fff" stroke="#0a0a0a" stroke-width="0.9" /><polygon points="403.9,845.7 404.22,845.46 404.46,845.11 404.63,844.66 404.7,844.15 404.68,843.57 404.57,842.96 404.38,842.35 404.1,841.74 403.76,841.18 403.35,840.67 402.91,840.24 402.44,839.9 401.97,839.67 401.51,839.56 401.09,839.57 400.7,839.7 400.38,839.94 400.14,840.29 399.97,840.74 399.9,841.25 399.92,841.83 400.03,842.44 400.22,843.05 400.5,843.66 400.84,844.22 401.25,844.73 401.69,845.16 402.16,845.5 402.63,845.73 403.09,845.84 403.51,845.83 403.9,845.7" fill="none" stroke="#0a0a0a" stroke-width="0.9"/>
<polygon points="414.77,841.31 415.17,841.01 415.47,840.57 415.68,840.03 415.77,839.39 415.75,838.68 415.61,837.93 415.37,837.16 415.03,836.42 414.6,835.72 414.1,835.09 413.55,834.56 412.98,834.14 412.4,833.86 411.83,833.72 411.3,833.73 410.83,833.89 410.43,834.19 410.13,834.63 409.92,835.17 409.83,835.81 409.85,836.52 409.99,837.27 410.23,838.04 410.57,838.78 411,839.48 411.5,840.11 412.05,840.64 412.62,841.06 413.2,841.34 413.77,841.48 414.3,841.47 414.77,841.31" fill="none" stroke="#0a0a0a" stroke-width="1.4"/>
<line x1="404" y1="841.5" x2="426" y2="830.5" stroke="#0a0a0a" stroke-width="0.5"/>
<rect x="496.2" y="821" width="12.8" height="32" rx="3" fill="#fff" stroke="none"/>
<path d="M496.3,823.3 A6.3,2.6 0 0 0 508.9,823.9" fill="none" stroke="#0a0a0a" stroke-width="1.1"/>
<path d="M496.3,823.3 A6.3,2.6 0 0 1 508.9,823.9" fill="none" stroke="#0a0a0a" stroke-width="0.7"/>
<path d="M497.8,824.2 A4.9,1.7 0 0 0 507.4,824.6" fill="none" stroke="#0a0a0a" stroke-width="0.6"/>
<path d="M496.3,827.2 A6.3,2.6 0 0 0 508.9,827.8" fill="none" stroke="#0a0a0a" stroke-width="1.1"/>
<path d="M496.3,827.2 A6.3,2.6 0 0 1 508.9,827.8" fill="none" stroke="#0a0a0a" stroke-width="0.7"/>
<path d="M497.8,828.1 A4.9,1.7 0 0 0 507.4,828.5" fill="none" stroke="#0a0a0a" stroke-width="0.6"/>
<path d="M496.3,831.1 A6.3,2.6 0 0 0 508.9,831.7" fill="none" stroke="#0a0a0a" stroke-width="1.1"/>
<path d="M496.3,831.1 A6.3,2.6 0 0 1 508.9,831.7" fill="none" stroke="#0a0a0a" stroke-width="0.7"/>
<path d="M497.8,832 A4.9,1.7 0 0 0 507.4,832.4" fill="none" stroke="#0a0a0a" stroke-width="0.6"/>
<path d="M496.3,835 A6.3,2.6 0 0 0 508.9,835.6" fill="none" stroke="#0a0a0a" stroke-width="1.1"/>
<path d="M496.3,835 A6.3,2.6 0 0 1 508.9,835.6" fill="none" stroke="#0a0a0a" stroke-width="0.7"/>
<path d="M497.8,835.9 A4.9,1.7 0 0 0 507.4,836.3" fill="none" stroke="#0a0a0a" stroke-width="0.6"/>
<path d="M496.3,838.9 A6.3,2.6 0 0 0 508.9,839.5" fill="none" stroke="#0a0a0a" stroke-width="1.1"/>
<path d="M496.3,838.9 A6.3,2.6 0 0 1 508.9,839.5" fill="none" stroke="#0a0a0a" stroke-width="0.7"/>
<path d="M497.8,839.8 A4.9,1.7 0 0 0 507.4,840.2" fill="none" stroke="#0a0a0a" stroke-width="0.6"/>
<path d="M496.3,842.8 A6.3,2.6 0 0 0 508.9,843.4" fill="none" stroke="#0a0a0a" stroke-width="1.1"/>
<path d="M496.3,842.8 A6.3,2.6 0 0 1 508.9,843.4" fill="none" stroke="#0a0a0a" stroke-width="0.7"/>
<path d="M497.8,843.7 A4.9,1.7 0 0 0 507.4,844.1" fill="none" stroke="#0a0a0a" stroke-width="0.6"/>
<path d="M496.3,846.7 A6.3,2.6 0 0 0 508.9,847.3" fill="none" stroke="#0a0a0a" stroke-width="1.1"/>
<path d="M496.3,846.7 A6.3,2.6 0 0 1 508.9,847.3" fill="none" stroke="#0a0a0a" stroke-width="0.7"/>
<path d="M497.8,847.6 A4.9,1.7 0 0 0 507.4,848" fill="none" stroke="#0a0a0a" stroke-width="0.6"/>
<path d="M496.3,850.6 A6.3,2.6 0 0 0 508.9,851.2" fill="none" stroke="#0a0a0a" stroke-width="1.1"/>
<path d="M496.3,850.6 A6.3,2.6 0 0 1 508.9,851.2" fill="none" stroke="#0a0a0a" stroke-width="0.7"/>
<path d="M497.8,851.5 A4.9,1.7 0 0 0 507.4,851.9" fill="none" stroke="#0a0a0a" stroke-width="0.6"/>
<path d="M496.3,823.3 L496.3,851 M508.9,824 L508.9,851.5" fill="none" stroke="#0a0a0a" stroke-width="0.7"/>
<line x1="502.4" y1="826" x2="502.4" y2="852" stroke="#0a0a0a" stroke-width="0.8" stroke-dasharray="5 2 1 2"/>
<polygon points="488.6,868.2 497.8,862.6 515.8,873.8 515.8,875.8 507,881 488.6,870.2" fill="#fff" stroke="#0a0a0a" stroke-width="0.9"/>
<polyline points="488.6,868.2 507,879 515.8,873.8" fill="none" stroke="#0a0a0a" stroke-width="0.9"/>
<ellipse cx="502.2" cy="870.6" rx="3" ry="2.1" fill="#fff" stroke="#0a0a0a" stroke-width="1.7"/>
<polygon points="421.02,920.71 421.14,920.64 421.24,920.54 421.32,920.41 421.38,920.26 421.43,920.08 421.45,919.89 421.45,919.68 421.43,919.47 421.38,919.24 421.32,919.01 421.24,918.78 421.14,918.55 421.03,918.33 420.9,918.12 420.76,917.93 420.61,917.75 420.45,917.6 420.29,917.47 420.12,917.37 419.96,917.29 419.8,917.24 419.65,917.23 419.51,917.24 419.38,917.29 403.98,924.89 403.86,924.96 403.76,925.06 403.68,925.19 403.62,925.34 403.57,925.52 403.55,925.71 403.55,925.92 403.57,926.13 403.62,926.36 403.68,926.59 403.76,926.82 403.86,927.05 403.97,927.27 404.1,927.48 404.24,927.67 404.39,927.85 404.55,928 404.71,928.13 404.88,928.23 405.04,928.31 405.2,928.36 405.35,928.37 405.49,928.36 405.62,928.31" fill="#fff" stroke="#0a0a0a" stroke-width="0.9" /><polygon points="421.02,920.71 421.19,920.59 421.32,920.41 421.41,920.17 421.45,919.89 421.44,919.58 421.38,919.24 421.28,918.89 421.14,918.55 420.96,918.22 420.76,917.93 420.53,917.67 420.29,917.47 420.04,917.32 419.8,917.24 419.58,917.23 419.38,917.29 419.21,917.41 419.08,917.59 418.99,917.83 418.95,918.11 418.96,918.42 419.02,918.76 419.12,919.11 419.26,919.45 419.44,919.78 419.64,920.07 419.87,920.33 420.11,920.53 420.36,920.68 420.6,920.76 420.82,920.77 421.02,920.71" fill="none" stroke="#0a0a0a" stroke-width="0.9"/>
<path d="M399.5,925.8 L405.2,924.3 L405.8,928.3 L403,933 Z" fill="#fff" stroke="#0a0a0a" stroke-width="0.9"/>
<polygon points="402.86,932.45 403.27,932.17 403.61,931.78 403.86,931.29 404.01,930.73 404.05,930.1 403.99,929.44 403.83,928.77 403.57,928.11 403.23,927.5 402.8,926.95 402.33,926.49 401.81,926.13 401.27,925.9 400.73,925.78 400.22,925.8 399.74,925.95 399.33,926.23 398.99,926.62 398.74,927.11 398.59,927.67 398.55,928.3 398.61,928.96 398.77,929.63 399.03,930.29 399.37,930.9 399.8,931.45 400.27,931.91 400.79,932.27 401.33,932.5 401.87,932.62 402.38,932.6 402.86,932.45" fill="#fff" stroke="#0a0a0a" stroke-width="1"/>
<polygon points="401.69,930.94 401.93,930.79 402.14,930.59 402.3,930.35 402.41,930.08 402.46,929.78 402.46,929.48 402.41,929.17 402.3,928.88 402.14,928.61 401.94,928.37 401.7,928.18 401.43,928.04 401.15,927.95 400.86,927.93 400.58,927.96 400.31,928.06 400.07,928.21 399.86,928.41 399.7,928.65 399.59,928.92 399.54,929.22 399.54,929.52 399.59,929.83 399.7,930.12 399.86,930.39 400.06,930.63 400.3,930.82 400.57,930.96 400.85,931.05 401.14,931.07 401.42,931.04 401.69,930.94" fill="#0a0a0a" stroke="#0a0a0a" stroke-width="1.2"/>
<line x1="413" y1="922.5" x2="419" y2="919.8" stroke="#0a0a0a" stroke-width="0.5"/>
<polygon points="432.2,906 436,903.8 440.5,905 441,910 438,913.3 433,912" fill="#fff" stroke="#0a0a0a" stroke-width="1"/>
<ellipse cx="436.6" cy="908.2" rx="3.2" ry="3.4" fill="#555" stroke="#0a0a0a" stroke-width="0.9"/>
<ellipse cx="437.5" cy="907.5" rx="1.2" ry="1.5" fill="#fff"/>
<path d="M511,916.5 Q522,917 533.6,917.8 L540.5,917 L586,908 L586,912.8 L540.5,922.6 L533.6,923.4 Q522,922.5 511,921.5 Z" fill="#fff" stroke="#0a0a0a" stroke-width="0.9"/>
<path d="M533.6,917.8 L533.6,923.4 M540.5,917 L540.5,922.6 M541,919.5 L585,910.5" fill="none" stroke="#0a0a0a" stroke-width="0.7"/>
<path d="M492.5,915 Q492.5,910.8 495,910.8 Q497.2,910.8 498.2,912.2 L508.2,912.2 Q511.6,912.2 511.6,915 L511.6,921 Q510.5,926.6 502.2,926.6 Q493.8,926.6 492.5,921 Z" fill="#fff" stroke="#0a0a0a" stroke-width="1.1"/>
<ellipse cx="502.2" cy="917" rx="7.2" ry="4.6" fill="none" stroke="#0a0a0a" stroke-width="1"/>
<path d="M494.6,920 Q502.2,925 509.8,920" fill="none" stroke="#0a0a0a" stroke-width="0.9"/>
<ellipse cx="502.2" cy="916.8" rx="4.3" ry="2.7" fill="none" stroke="#0a0a0a" stroke-width="1.2"/>
<path d="M495.5,913.5 L498,915 M506.5,915 L509.5,913.5 M505,919 L509,921 M496,919 L499,920.5" fill="none" stroke="#0a0a0a" stroke-width="0.9"/>
<line x1="502.3" y1="905" x2="502.3" y2="928" stroke="#0a0a0a" stroke-width="0.9"/>
<path d="M494,944.3 L494,948 A8.4,5 0 0 0 510.8,948 L510.8,944.3 Z" fill="#333" stroke="#0a0a0a" stroke-width="1"/>
<ellipse cx="502.4" cy="944.3" rx="8.4" ry="4.6" fill="#fff" stroke="#0a0a0a" stroke-width="1"/>
<ellipse cx="502.4" cy="944.3" rx="5.2" ry="2.9" fill="#0a0a0a"/>
<ellipse cx="502.4" cy="944.3" rx="2.6" ry="1.4" fill="#fff"/>
<path d="M637.5,892.5 L659.6,885.5 Q664,889.5 662.4,900.2 L640.6,903 Z" fill="#fff" stroke="#0a0a0a" stroke-width="0.9"/>
<path d="M659.6,885.5 Q657.5,893 660,900.4" fill="none" stroke="#0a0a0a" stroke-width="0.7"/>
<ellipse cx="638.8" cy="897.6" rx="2.8" ry="5.4" transform="rotate(-10 638.8 897.6)" fill="#fff" stroke="#0a0a0a" stroke-width="1.1"/>
<ellipse cx="638.9" cy="897.5" rx="1.3" ry="2.2" fill="#444"/>
<g fill="none" stroke="#000" stroke-width="1.95" stroke-linecap="round" stroke-linejoin="round">
<path transform="translate(417.60 47.80)" d="M0,5.6 L3.6,0 L3.6,18"/>
<path transform="translate(417.35 112.20)" d="M0.2,4.9 C0.3,1.7 1.8,0 3.5,0 C5.4,0 6.6,1.9 6.6,4.8 C6.6,8.3 4,11.5 0,18 L7.3,18"/>
<path transform="translate(416.85 271.20)" d="M0.2,3.4 C0.6,1 2,0 3.5,0 C5.5,0 6.8,1.6 6.8,4.1 C6.8,6.6 5.2,8.2 3.2,8.2 C5.8,8.2 7.3,10.1 7.3,12.9 C7.3,16 5.7,18 3.5,18 C1.6,18 0.3,16.5 0,13.8"/>
<path transform="translate(416.00 345.80)" d="M5.9,18 L5.9,0 L0,13.3 L8,13.3"/>
<path transform="translate(310.80 345.60)" d="M7.3,0 L1.6,0 L1,8.5 C1.8,6.7 2.8,5.9 4.3,5.9 C6.2,5.9 7.4,7.9 7.4,11.3 C7.4,15.6 6,18 3.9,18 C2,18 0.6,16.5 0,13.6"/>
<path transform="translate(312.50 430.60)" d="M6,3.3 C5.6,1.1 4.5,0 3,0 C1,0 0,3.5 0,9 L0,12.5 C0,16 1.3,18 3,18 C4.8,18 6,15.9 6,12.8 C6,9.4 4.8,7.3 3.1,7.3 C1.6,7.3 0.5,8.3 0,10"/>
<path transform="translate(311.20 483.20)" d="M0,0 L7.6,0 L2.2,18"/>
<path transform="translate(416.80 544.10)" d="M3.5,8.6 C1.9,8.6 0.6,6.7 0.6,4.3 C0.6,1.9 1.9,0 3.5,0 C5.1,0 6.4,1.9 6.4,4.3 C6.4,6.7 5.1,8.6 3.5,8.6 C1.6,8.6 0,10.5 0,13.1 C0,15.8 1.6,18 3.5,18 C5.4,18 7,15.8 7,13.1 C7,10.5 5.4,8.6 3.5,8.6 Z"/>
<path transform="translate(416.70 662.90)" d="M6.6,5.4 C6.6,8.6 5.2,10.6 3.3,10.6 C1.4,10.6 0,8.6 0,5.3 C0,2 1.4,0 3.3,0 C5.2,0 6.6,2 6.6,5.4 L6.6,12.5 C6.6,16 5.3,18 3.3,18 C1.6,18 0.5,16.6 0.1,14.2"/>
<path transform="translate(414.30 721.70)" d="M0,5.6 L3.6,0 L3.6,18"/><path transform="translate(425.50 721.70)" d="M3.1,0 C1.3,0 0,3.6 0,9 C0,14.4 1.3,18 3.1,18 C4.9,18 6.2,14.4 6.2,9 C6.2,3.6 4.9,0 3.1,0 Z"/>
<path transform="translate(337.70 851.10)" d="M0,5.6 L3.6,0 L3.6,18"/><path transform="translate(348.90 851.10)" d="M0,5.6 L3.6,0 L3.6,18"/>
<path transform="translate(422.90 851.10)" d="M0,5.6 L3.6,0 L3.6,18"/><path transform="translate(433.55 851.10)" d="M0.2,4.9 C0.3,1.7 1.8,0 3.5,0 C5.4,0 6.6,1.9 6.6,4.8 C6.6,8.3 4,11.5 0,18 L7.3,18"/>
<path transform="translate(337.70 897.40)" d="M0,5.6 L3.6,0 L3.6,18"/><path transform="translate(348.35 897.40)" d="M0.2,3.4 C0.6,1 2,0 3.5,0 C5.5,0 6.8,1.6 6.8,4.1 C6.8,6.6 5.2,8.2 3.2,8.2 C5.8,8.2 7.3,10.1 7.3,12.9 C7.3,16 5.7,18 3.5,18 C1.6,18 0.3,16.5 0,13.8"/>
<path transform="translate(337.70 945.40)" d="M0,5.6 L3.6,0 L3.6,18"/><path transform="translate(348.00 945.40)" d="M5.9,18 L5.9,0 L0,13.3 L8,13.3"/>
<path transform="translate(394.70 945.40)" d="M0,5.6 L3.6,0 L3.6,18"/><path transform="translate(405.30 945.40)" d="M7.3,0 L1.6,0 L1,8.5 C1.8,6.7 2.8,5.9 4.3,5.9 C6.2,5.9 7.4,7.9 7.4,11.3 C7.4,15.6 6,18 3.9,18 C2,18 0.6,16.5 0,13.6"/>
<path transform="translate(449.90 945.40)" d="M0,5.6 L3.6,0 L3.6,18"/><path transform="translate(461.20 945.40)" d="M6,3.3 C5.6,1.1 4.5,0 3,0 C1,0 0,3.5 0,9 L0,12.5 C0,16 1.3,18 3,18 C4.8,18 6,15.9 6,12.8 C6,9.4 4.8,7.3 3.1,7.3 C1.6,7.3 0.5,8.3 0,10"/>
<path transform="translate(573.35 945.40)" d="M0,5.6 L3.6,0 L3.6,18"/><path transform="translate(583.85 945.40)" d="M0,0 L7.6,0 L2.2,18"/>
<path transform="translate(694.25 945.40)" d="M0,5.6 L3.6,0 L3.6,18"/><path transform="translate(705.05 945.40)" d="M3.5,8.6 C1.9,8.6 0.6,6.7 0.6,4.3 C0.6,1.9 1.9,0 3.5,0 C5.1,0 6.4,1.9 6.4,4.3 C6.4,6.7 5.1,8.6 3.5,8.6 C1.6,8.6 0,10.5 0,13.1 C0,15.8 1.6,18 3.5,18 C5.4,18 7,15.8 7,13.1 C7,10.5 5.4,8.6 3.5,8.6 Z"/>
<path transform="translate(573.30 757.60)" d="M0,5.6 L3.6,0 L3.6,18"/><path transform="translate(584.30 757.60)" d="M6.6,5.4 C6.6,8.6 5.2,10.6 3.3,10.6 C1.4,10.6 0,8.6 0,5.3 C0,2 1.4,0 3.3,0 C5.2,0 6.6,2 6.6,5.4 L6.6,12.5 C6.6,16 5.3,18 3.3,18 C1.6,18 0.5,16.6 0.1,14.2"/>
<path transform="translate(572.75 712.20)" d="M0.2,4.9 C0.3,1.7 1.8,0 3.5,0 C5.4,0 6.6,1.9 6.6,4.8 C6.6,8.3 4,11.5 0,18 L7.3,18"/><path transform="translate(584.50 712.20)" d="M3.1,0 C1.3,0 0,3.6 0,9 C0,14.4 1.3,18 3.1,18 C4.9,18 6.2,14.4 6.2,9 C6.2,3.6 4.9,0 3.1,0 Z"/>
<path transform="translate(638.40 632.70)" d="M0.2,4.9 C0.3,1.7 1.8,0 3.5,0 C5.4,0 6.6,1.9 6.6,4.8 C6.6,8.3 4,11.5 0,18 L7.3,18"/><path transform="translate(650.15 632.70)" d="M0,5.6 L3.6,0 L3.6,18"/>
<path transform="translate(701.10 632.70)" d="M0.2,4.9 C0.3,1.7 1.8,0 3.5,0 C5.4,0 6.6,1.9 6.6,4.8 C6.6,8.3 4,11.5 0,18 L7.3,18"/><path transform="translate(712.30 632.70)" d="M0.2,4.9 C0.3,1.7 1.8,0 3.5,0 C5.4,0 6.6,1.9 6.6,4.8 C6.6,8.3 4,11.5 0,18 L7.3,18"/>
<path transform="translate(759.95 632.70)" d="M0.2,4.9 C0.3,1.7 1.8,0 3.5,0 C5.4,0 6.6,1.9 6.6,4.8 C6.6,8.3 4,11.5 0,18 L7.3,18"/><path transform="translate(771.15 632.70)" d="M0.2,3.4 C0.6,1 2,0 3.5,0 C5.5,0 6.8,1.6 6.8,4.1 C6.8,6.6 5.2,8.2 3.2,8.2 C5.8,8.2 7.3,10.1 7.3,12.9 C7.3,16 5.7,18 3.5,18 C1.6,18 0.3,16.5 0,13.8"/>
<path transform="translate(619.95 469.70)" d="M0.2,4.9 C0.3,1.7 1.8,0 3.5,0 C5.4,0 6.6,1.9 6.6,4.8 C6.6,8.3 4,11.5 0,18 L7.3,18"/><path transform="translate(630.80 469.70)" d="M5.9,18 L5.9,0 L0,13.3 L8,13.3"/>
<path transform="translate(549.95 345.90)" d="M0.2,4.9 C0.3,1.7 1.8,0 3.5,0 C5.4,0 6.6,1.9 6.6,4.8 C6.6,8.3 4,11.5 0,18 L7.3,18"/><path transform="translate(561.10 345.90)" d="M7.3,0 L1.6,0 L1,8.5 C1.8,6.7 2.8,5.9 4.3,5.9 C6.2,5.9 7.4,7.9 7.4,11.3 C7.4,15.6 6,18 3.9,18 C2,18 0.6,16.5 0,13.6"/>
<path transform="translate(613.15 345.90)" d="M0.2,4.9 C0.3,1.7 1.8,0 3.5,0 C5.4,0 6.6,1.9 6.6,4.8 C6.6,8.3 4,11.5 0,18 L7.3,18"/><path transform="translate(625.00 345.90)" d="M6,3.3 C5.6,1.1 4.5,0 3,0 C1,0 0,3.5 0,9 L0,12.5 C0,16 1.3,18 3,18 C4.8,18 6,15.9 6,12.8 C6,9.4 4.8,7.3 3.1,7.3 C1.6,7.3 0.5,8.3 0,10"/>
</g>
</svg>
</body></html>
